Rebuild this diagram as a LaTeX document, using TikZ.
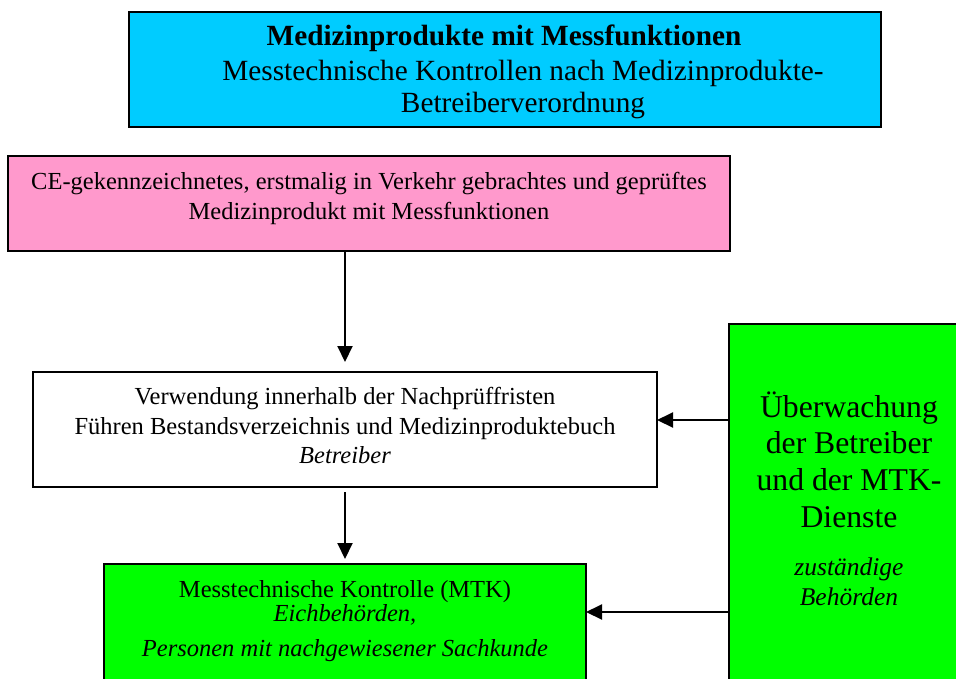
\documentclass[tikz,border=0pt]{standalone}
\usepackage{fontspec}
\setmainfont{Liberation Serif}
\usetikzlibrary{arrows.meta,calc}
\definecolor{topcyan}{HTML}{00CCFF}
\definecolor{pinkfill}{HTML}{FF99CC}
\definecolor{greenfill}{HTML}{00FF00}
\tikzset{
  box/.style={draw=black, line width=2pt, anchor=north west, inner sep=0pt, outer sep=0pt},
  arr/.style={draw=black, line width=2pt, -{Triangle[length=16pt,width=15pt]}},
  ln/.style={anchor=base, inner sep=0pt},
  bigtxt/.style={font=\fontsize{29.3}{33}\selectfont},
  bigbold/.style={font=\fontsize{29.3}{33}\selectfont\bfseries},
  midtxt/.style={font=\fontsize{24.5}{30}\selectfont},
  miditx/.style={font=\fontsize{24.5}{30}\selectfont\itshape},
  rtxt/.style={font=\fontsize{31.7}{37}\selectfont},
  ritx/.style={font=\fontsize{25.5}{30}\selectfont\itshape},
}
\begin{document}
\begin{tikzpicture}[x=1pt,y=-1pt]
\useasboundingbox (0,0) rectangle (956,678);
\begin{scope}
\clip (0,0) rectangle (956,678);
% boxes
\node[box, fill=topcyan, minimum width=752pt, minimum height=115pt] (top) at (129,12) {};
\node[box, fill=pinkfill, minimum width=722pt, minimum height=95pt] (pink) at (8,156) {};
\node[box, fill=white, minimum width=624pt, minimum height=115pt] (white) at (33,372) {};
\node[box, fill=greenfill, minimum width=482pt, minimum height=156pt] (mtk) at (104,564) {};
\node[box, fill=greenfill, minimum width=241pt, minimum height=396pt] (ueber) at (729,324) {};
% texts top
\node[ln, bigbold] (t1) at (504,45) {Medizinprodukte mit Messfunktionen};
\node[ln, bigtxt] (t2) at (523,80) {Messtechnische Kontrollen nach Medizinprodukte-};
\node[ln, bigtxt] (t3) at (523,112) {Betreiberverordnung};
% pink
\node[ln, midtxt] (p1) at (369,189) {CE-gekennzeichnetes, erstmalig in Verkehr gebrachtes und geprüftes};
\node[ln, midtxt] (p2) at (369,219) {Medizinprodukt mit Messfunktionen};
% white
\node[ln, midtxt] (w1) at (345,404) {Verwendung innerhalb der Nachprüffristen};
\node[ln, midtxt] (w2) at (345,434) {Führen Bestandsverzeichnis und Medizinproduktebuch};
\node[ln, miditx] (w3) at (345,463) {Betreiber};
% mtk
\node[ln, midtxt] (m1) at (345,597) {Messtechnische Kontrolle (MTK)};
\node[ln, miditx] (m2) at (345,621) {Eichbehörden,};
\node[ln, miditx] (m3) at (345,656) {Personen mit nachgewiesener Sachkunde};
% right
\node[ln, rtxt] (r1) at (849,417) {Überwachung};
\node[ln, rtxt] (r2) at (849,453) {der Betreiber};
\node[ln, rtxt] (r3) at (849,490) {und der MTK-};
\node[ln, rtxt] (r4) at (849,527) {Dienste};
\node[ln, ritx] (r5) at (849,575) {zuständige};
\node[ln, ritx] (r6) at (849,605) {Behörden};
% connectors
\draw[arr, shorten >=10pt] (pink.south -| white.north) -- (white.north);
\draw[arr, shorten <=5pt, shorten >=5pt] (white.south) -- (mtk.north);
\coordinate (c1) at (ueber.west |- 0,420);
\coordinate (c2) at (ueber.west |- 0,612);
\draw[arr] (c1) -- (c1 -| white.east);
\draw[arr] (c2) -- (c2 -| mtk.east);
\end{scope}
\end{tikzpicture}
\end{document}
